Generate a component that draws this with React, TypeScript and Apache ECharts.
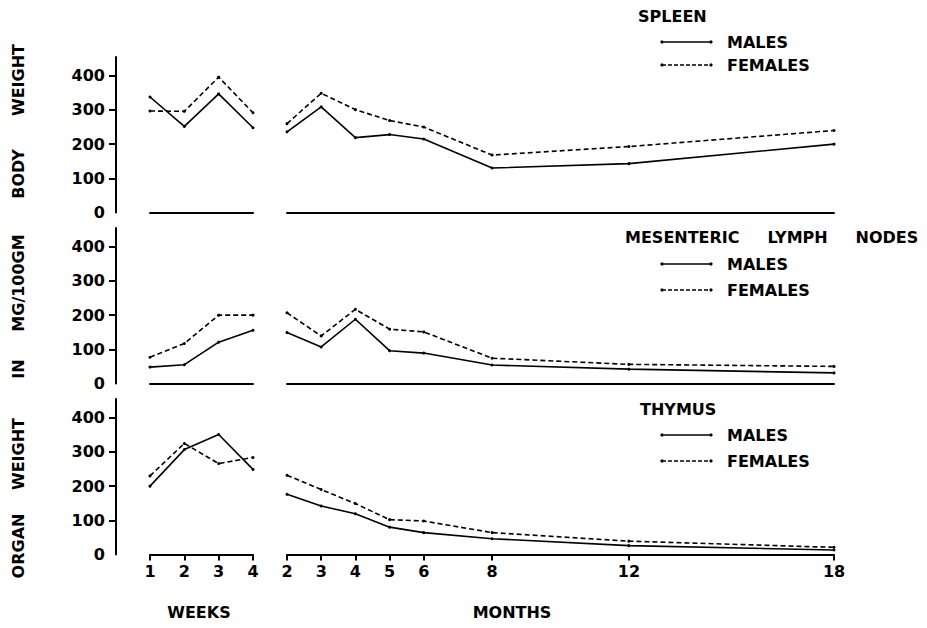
import React, { useEffect, useRef } from "react";
import * as echarts from "echarts";

// ---- Data ----
const weekValues = [1, 2, 3, 4];
const monthValues = [2, 3, 4, 5, 6, 8, 12, 18];
const yTickValues = [0, 100, 200, 300, 400];
const yTickMarks = [100, 200, 300, 400];

const panelTitles = ["SPLEEN", "MESENTERIC     LYMPH     NODES", "THYMUS"];
const legendLabels = ["MALES", "FEMALES"];
const xAxisTitles = ["WEEKS", "MONTHS"];
const yTitleWords = ["WEIGHT", "BODY", "MG/100GM", "IN", "WEIGHT", "ORGAN"];

const spleenWeeksMales = [338, 252, 347, 248];
const spleenWeeksFemales = [297, 296, 396, 292];
const spleenMonthsMales = [236, 309, 219, 228, 215, 130, 143, 200];
const spleenMonthsFemales = [260, 349, 301, 269, 250, 168, 193, 240];

const lymphWeeksMales = [48, 55, 121, 156];
const lymphWeeksFemales = [77, 117, 200, 200];
const lymphMonthsMales = [149, 107, 188, 96, 89, 54, 42, 31];
const lymphMonthsFemales = [207, 139, 217, 159, 151, 74, 56, 50];

const thymusWeeksMales = [200, 307, 351, 249];
const thymusWeeksFemales = [230, 325, 266, 284];
const thymusMonthsMales = [176, 142, 119, 80, 64, 46, 26, 13];
const thymusMonthsFemales = [232, 190, 149, 102, 98, 64, 39, 21];

const panels = [
  { weeks: [spleenWeeksMales, spleenWeeksFemales], months: [spleenMonthsMales, spleenMonthsFemales] },
  { weeks: [lymphWeeksMales, lymphWeeksFemales], months: [lymphMonthsMales, lymphMonthsFemales] },
  { weeks: [thymusWeeksMales, thymusWeeksFemales], months: [thymusMonthsMales, thymusMonthsFemales] },
];

// ---- Layout ----
const W = 927;
const H = 628;
const FONT = '"DejaVu Sans", sans-serif';
const panelTops = [57, 228, 399];
const panelHeight = 155.5;
const weeksLeft = 150;
const weeksWidth = 103;
const monthsLeft = 287;
const monthsWidth = 547;
const yMax = 455;

const legendPos = [
  { titleX: 638, titleY: 16, maleY: 42, femaleY: 65 },
  { titleX: 625, titleY: 237, maleY: 264, femaleY: 290 },
  { titleX: 640, titleY: 409, maleY: 435, femaleY: 461 },
];
const yTitleCenters = [80, 174, 283, 369, 454, 546];

const textStyle = { fontFamily: FONT, fontWeight: "bold" as const, fontSize: 16, color: "#000" };

function buildOption() {
  const grids: any[] = [];
  const xAxes: any[] = [];
  const yAxes: any[] = [];
  const series: any[] = [];

  panels.forEach((p, i) => {
    const isBottom = i === panels.length - 1;
    // weeks grid
    grids.push({ left: weeksLeft, top: panelTops[i], width: weeksWidth, height: panelHeight });
    // months grid
    grids.push({ left: monthsLeft, top: panelTops[i], width: monthsWidth, height: panelHeight });
    const gw = i * 2;
    const gm = i * 2 + 1;

    const axisLine = { show: true, lineStyle: { color: "#000", width: 2 } };
    xAxes.push({
      type: "value",
      gridIndex: gw,
      min: 1,
      max: 4,
      interval: 1,
      axisLine,
      axisTick: { show: isBottom, length: 6, lineStyle: { color: "#000", width: 2 } },
      axisLabel: { show: isBottom, margin: 9, ...textStyle },
      splitLine: { show: false },
    });
    xAxes.push({
      type: "value",
      gridIndex: gm,
      min: 2,
      max: 18,
      axisLine,
      axisTick: { show: isBottom, length: 6, customValues: monthValues, lineStyle: { color: "#000", width: 2 } },
      axisLabel: { show: isBottom, margin: 9, customValues: monthValues, ...textStyle },
      splitLine: { show: false },
    });
    yAxes.push({
      type: "value",
      gridIndex: gw,
      min: 0,
      max: yMax,
      offset: 34,
      axisLine: { show: true, lineStyle: { color: "#000", width: 2 } },
      axisTick: { show: true, length: 7, customValues: yTickMarks, lineStyle: { color: "#000", width: 2 } },
      axisLabel: { show: true, margin: 11, customValues: yTickValues, ...textStyle },
      splitLine: { show: false },
    });
    yAxes.push({
      type: "value",
      gridIndex: gm,
      min: 0,
      max: yMax,
      show: false,
      splitLine: { show: false },
    });

    const mk = (xs: number[], ys: number[], axis: number, female: boolean, name: string) => ({
      type: "line",
      name,
      xAxisIndex: axis,
      yAxisIndex: axis,
      data: xs.map((x, k) => [x, ys[k]]),
      symbol: "circle",
      symbolSize: 3,
      silent: true,
      itemStyle: { color: "#000" },
      lineStyle: { color: "#000", width: 1.6, type: female ? [5, 3] : "solid" },
    });
    series.push(mk(weekValues, p.weeks[0], gw, false, legendLabels[0]));
    series.push(mk(weekValues, p.weeks[1], gw, true, legendLabels[1]));
    series.push(mk(monthValues, p.months[0], gm, false, legendLabels[0]));
    series.push(mk(monthValues, p.months[1], gm, true, legendLabels[1]));
  });

  const font = `bold 16px ${FONT}`;
  const graphics: any[] = [];
  legendPos.forEach((lp, i) => {
    graphics.push({
      type: "text",
      x: lp.titleX,
      y: lp.titleY,
      style: { text: panelTitles[i], font, fill: "#000", textAlign: "left", textVerticalAlign: "middle" },
    });
    [lp.maleY, lp.femaleY].forEach((yy, k) => {
      graphics.push({
        type: "line",
        shape: { x1: 662, y1: yy, x2: 711, y2: yy },
        style: { stroke: "#000", lineWidth: 1.5, lineDash: k === 1 ? [4, 2] : null },
      });
      graphics.push({ type: "circle", shape: { cx: 662, cy: yy, r: 1.6 }, style: { fill: "#000" } });
      graphics.push({ type: "circle", shape: { cx: 711, cy: yy, r: 1.6 }, style: { fill: "#000" } });
      graphics.push({
        type: "text",
        x: 727,
        y: yy,
        style: { text: legendLabels[k], font, fill: "#000", textAlign: "left", textVerticalAlign: "middle" },
      });
    });
  });
  yTitleWords.forEach((w, k) => {
    graphics.push({
      type: "text",
      x: 18,
      y: yTitleCenters[k],
      rotation: Math.PI / 2,
      style: { text: w, font, fill: "#000", textAlign: "center", textVerticalAlign: "middle" },
    });
  });
  graphics.push({
    type: "text",
    x: 199,
    y: 612,
    style: { text: xAxisTitles[0], font, fill: "#000", textAlign: "center", textVerticalAlign: "middle" },
  });
  graphics.push({
    type: "text",
    x: 512,
    y: 612,
    style: { text: xAxisTitles[1], font, fill: "#000", textAlign: "center", textVerticalAlign: "middle" },
  });

  return {
    animation: false,
    backgroundColor: "#fff",
    grid: grids,
    xAxis: xAxes,
    yAxis: yAxes,
    series,
    graphic: graphics,
  };
}

export default function App() {
  const ref = useRef<HTMLDivElement>(null);
  useEffect(() => {
    if (!ref.current) return;
    const chart = echarts.init(ref.current, undefined, { renderer: "svg", width: W, height: H });
    chart.setOption(buildOption());
    return () => chart.dispose();
  }, []);
  return <div ref={ref} style={{ position: "fixed", left: 0, top: 0, width: W, height: H, background: "#fff" }} />;
}
